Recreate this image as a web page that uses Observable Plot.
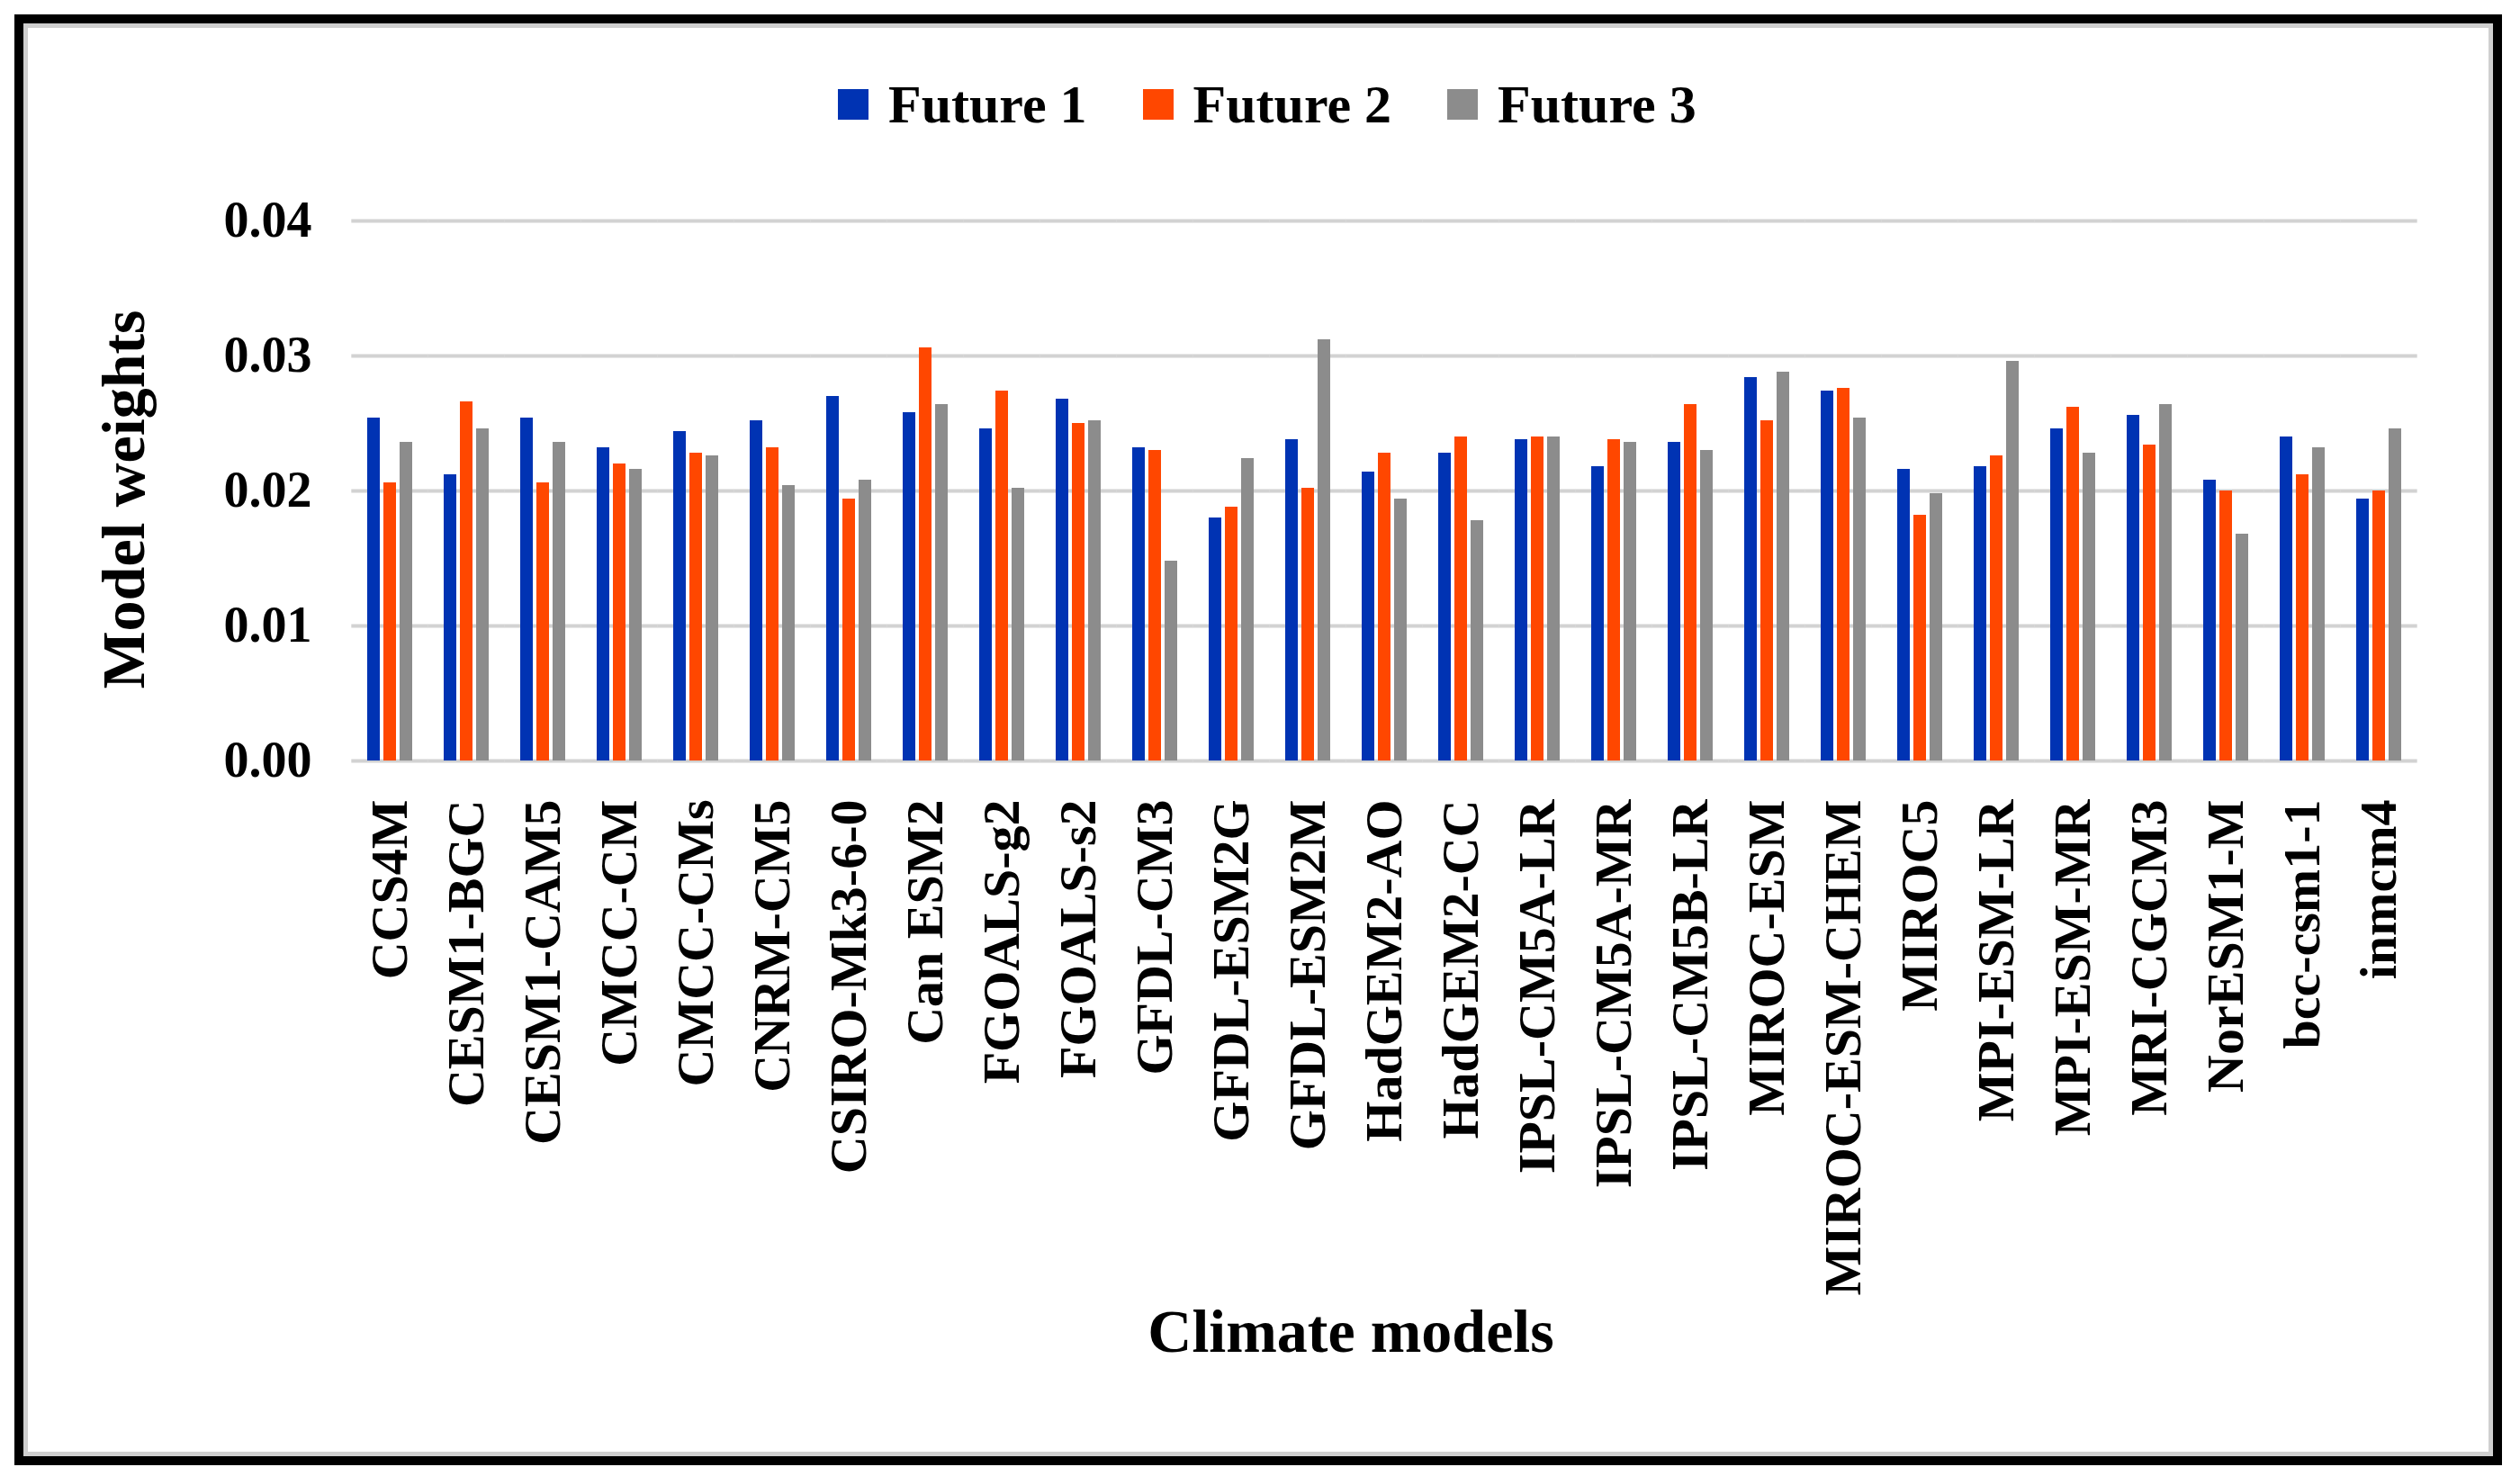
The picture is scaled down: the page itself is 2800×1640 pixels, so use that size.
<!DOCTYPE html>
<html>
<head>
<meta charset="utf-8">
<script src="https://cdn.jsdelivr.net/npm/d3@7"></script>
<script src="https://cdn.jsdelivr.net/npm/@observablehq/plot@0.6"></script>
<style>
  html, body { margin: 0; padding: 0; background: #fff; }
  #wrap { position: relative; width: 2800px; height: 1640px; overflow: hidden; font-family: "Liberation Serif", "Times New Roman", serif; font-weight: bold; color: #000; }
  #chart { position: absolute; left: 0; top: 200px; }
  #frame { position: absolute; left: 16px; top: 16px; width: 2764px; height: 1612px; border: 10px solid #000; box-sizing: border-box; pointer-events: none; z-index: 5; }
  #frame > div { position: absolute; inset: 0; border: 5px solid #cfcfcf; }
  #legend { position: absolute; left: 931px; top: 99px; height: 34px; display: flex; align-items: center; font-size: 60px; line-height: 1; white-space: nowrap; }
  .item { display: flex; align-items: center; margin-right: 62px; }
  .sw { width: 34px; height: 34px; margin-right: 22px; }
  #ytitle { position: absolute; left: 137px; top: 555px; transform: translate(-50%, -50%) rotate(-90deg); font-size: 68px; white-space: nowrap; line-height: 1; }
  #xtitle { position: absolute; left: 1501px; top: 1445px; transform: translateX(-50%); font-size: 68px; white-space: nowrap; line-height: 1; }
</style>
</head>
<body>
<div id="wrap">
  <div id="legend"></div>
  <div id="ytitle">Model weights</div>
  <div id="chart"></div>
  <div id="xtitle">Climate models</div>
  <div id="frame"><div></div></div>
</div>
<script>
const models = ["CCS4M","CESM1-BGC","CESM1-CAM5","CMCC-CM","CMCC-CMs","CNRM-CM5","CSIRO-Mk3-6-0","Can ESM2","FGOALS-g2","FGOALS-s2","GFDL-CM3","GFDL-ESM2G","GFDL-ESM2M","HadGEM2-AO","HadGEM2-CC","IPSL-CM5A-LR","IPSL-CM5A-MR","IPSL-CM5B-LR","MIROC-ESM","MIROC-ESM-CHEM","MIROC5","MPI-ESM-LR","MPI-ESM-MR","MRI-CGCM3","NorESM1-M","bcc-csm1-1","inmcm4"];
const future1 = [0.0254,0.0212,0.0254,0.0232,0.0244,0.0252,0.0270,0.0258,0.0246,0.0268,0.0232,0.0180,0.0238,0.0214,0.0228,0.0238,0.0218,0.0236,0.0284,0.0274,0.0216,0.0218,0.0246,0.0256,0.0208,0.0240,0.0194];
const future2 = [0.0206,0.0266,0.0206,0.0220,0.0228,0.0232,0.0194,0.0306,0.0274,0.0250,0.0230,0.0188,0.0202,0.0228,0.0240,0.0240,0.0238,0.0264,0.0252,0.0276,0.0182,0.0226,0.0262,0.0234,0.0200,0.0212,0.0200];
const future3 = [0.0236,0.0246,0.0236,0.0216,0.0226,0.0204,0.0208,0.0264,0.0202,0.0252,0.0148,0.0224,0.0312,0.0194,0.0178,0.0240,0.0236,0.0230,0.0288,0.0254,0.0198,0.0296,0.0228,0.0264,0.0168,0.0232,0.0246];
const seriesNames = ["Future 1","Future 2","Future 3"];
const seriesColors = ["#0033b3","#ff4700","#8c8c8c"];
const yTicks = [0, 0.01, 0.02, 0.03, 0.04];

const seriesValues = [future1, future2, future3];
const data = models.flatMap((m, i) => seriesNames.map((s, j) => ({model: m, series: s, value: seriesValues[j][i]})));

// legend
const legend = document.getElementById("legend");
seriesNames.forEach((s, j) => {
  const it = document.createElement("div");
  it.className = "item";
  const sw = document.createElement("div");
  sw.className = "sw";
  sw.style.background = seriesColors[j];
  const tx = document.createElement("span");
  tx.textContent = s;
  it.appendChild(sw); it.appendChild(tx);
  legend.appendChild(it);
});

const W = 2800, mL = 384, mR = 109;
const pIn = 0.39, pOut = 0.2;
const step = (W - mL - mR) / (models.length - pIn + 2 * pOut);
const ext = pIn * step / 2;

const chart = Plot.plot({
  width: W,
  height: 1400,
  marginTop: 45,
  marginBottom: 755,
  marginLeft: mL,
  marginRight: mR,
  style: {background: "transparent", fontFamily: "'Liberation Serif', 'Times New Roman', serif", fontWeight: "bold", color: "#000", overflow: "visible"},
  fx: {domain: models, paddingInner: pIn, paddingOuter: pOut, label: null},
  x: {domain: seriesNames, paddingInner: 0.2, paddingOuter: 0, axis: null},
  y: {domain: [0, 0.04], label: null},
  color: {domain: seriesNames, range: seriesColors},
  marks: [
    Plot.ruleY(yTicks, {stroke: "#d2d2d2", strokeWidth: 4, insetLeft: -ext, insetRight: -ext}),
    Plot.barY(data, {fx: "model", x: "series", y: "value", fill: "series"}),
    Plot.axisY({ticks: yTicks, tickFormat: d3.format(".2f"), tickSize: 0, tickPadding: 61, fontSize: 56, label: null}),
    Plot.axisFx({anchor: "bottom", tickRotate: -90, tickSize: 0, tickPadding: 43, fontSize: 58, label: null})
  ]
});
document.getElementById("chart").appendChild(chart);
</script>
</body>
</html>
